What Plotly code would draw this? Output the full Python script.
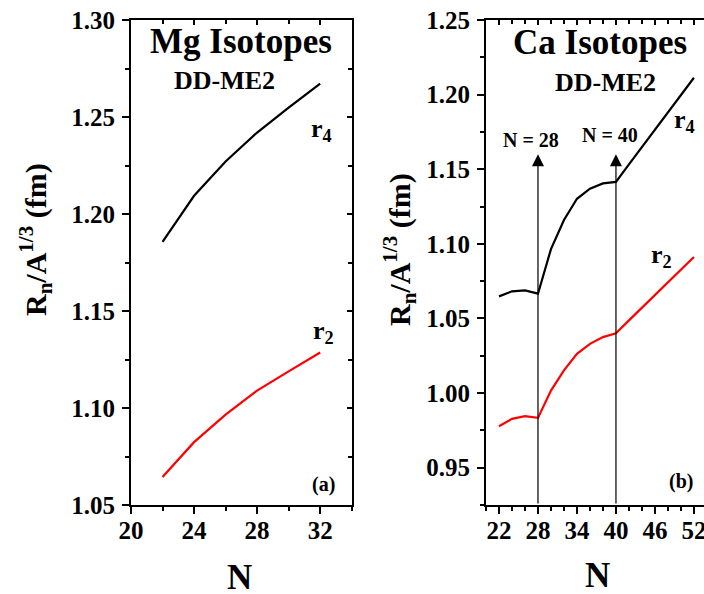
import plotly.graph_objects as go

# ---------------- data ----------------
mg_N = [22, 24, 26, 28, 30, 32]
mg_r4 = [1.1856, 1.2094, 1.2271, 1.2420, 1.2548, 1.2672]
mg_r2 = [1.0644, 1.0824, 1.0966, 1.1090, 1.1189, 1.1286]

ca_N = [22, 24, 26, 28, 30, 32, 34, 36, 38, 40, 42, 44, 46, 48, 50, 52]
ca_r4 = [1.0648, 1.0682, 1.0688, 1.0666, 1.0965, 1.1160, 1.1302, 1.1370, 1.1405, 1.1415,
         1.1533, 1.1648, 1.1764, 1.1880, 1.1997, 1.2113]
ca_r2 = [0.9778, 0.9827, 0.9845, 0.9834, 1.0017, 1.0152, 1.0263, 1.0330, 1.0375, 1.0400,
         1.0487, 1.0572, 1.0657, 1.0742, 1.0827, 1.0912]

magic_N = [28, 40]
arrow_top = 1.16

mg_xticks = [20, 24, 28, 32]
ca_xticks = [22, 28, 34, 40, 46, 52]

FONT = "Liberation Serif"

fig = go.Figure()

fig.add_trace(go.Scatter(x=mg_N, y=mg_r4, mode="lines", line=dict(color="black", width=2.2),
                         xaxis="x", yaxis="y", showlegend=False))
fig.add_trace(go.Scatter(x=mg_N, y=mg_r2, mode="lines", line=dict(color="#ff0000", width=2.2),
                         xaxis="x", yaxis="y", showlegend=False))
fig.add_trace(go.Scatter(x=ca_N, y=ca_r4, mode="lines", line=dict(color="black", width=2.2),
                         xaxis="x2", yaxis="y2", showlegend=False))
fig.add_trace(go.Scatter(x=ca_N, y=ca_r2, mode="lines", line=dict(color="#ff0000", width=2.2),
                         xaxis="x2", yaxis="y2", showlegend=False))

tickfont = dict(family=FONT, size=25, color="black", weight="bold")
common = dict(showline=True, linecolor="black", linewidth=2, ticks="outside",
              tickcolor="black", tickwidth=2, ticklen=7, showgrid=False,
              zeroline=False, tickfont=tickfont, automargin=False,
              ticklabeloverflow="allow")
minor_out = dict(ticks="outside", ticklen=4, tickcolor="black", tickwidth=1.5, showgrid=False)
minor_in = dict(ticks="inside", ticklen=4, tickcolor="black", tickwidth=1.5, showgrid=False)
ov = dict(showline=True, linecolor="black", linewidth=2, ticks="inside", ticklen=5,
          tickwidth=1.5, tickcolor="black", showticklabels=False, showgrid=False,
          zeroline=False, automargin=False)

xd1 = [131 / 704, 351.7 / 704]
xd2 = [486 / 704, 1.0]
yd = [1 - 505 / 594, 1 - 20 / 594]

fig.update_layout(
    width=704, height=594, margin=dict(l=0, r=0, t=0, b=0, pad=0, autoexpand=False),
    paper_bgcolor="white", plot_bgcolor="white",
    xaxis=dict(domain=xd1, range=[20, 34], anchor="y", tickmode="array", tickvals=mg_xticks,
               minor=dict(dtick=2, tick0=20, **minor_out), ticklabelstandoff=-5, **common),
    yaxis=dict(domain=yd, range=[1.05, 1.30], anchor="x", dtick=0.05, tick0=1.05,
               tickformat=".2f", minor=dict(dtick=0.025, tick0=1.05, **minor_out),
               ticklabelstandoff=2, **common),
    xaxis2=dict(domain=xd2, range=[20, 53.55], anchor="y2", tickmode="array", tickvals=ca_xticks,
                minor=dict(dtick=2, tick0=20, **minor_out), ticklabelstandoff=-5, **common),
    yaxis2=dict(domain=yd, range=[0.925, 1.25], anchor="x2", dtick=0.05, tick0=0.95,
                tickformat=".2f", minor=dict(dtick=0.025, tick0=0.925, **minor_out),
                ticklabelstandoff=2, **common),
    # mirror frame with inward ticks
    xaxis3=dict(overlaying="x", side="top", anchor="y", range=[20, 34],
                tickvals=mg_xticks, minor=dict(dtick=2, tick0=20, **minor_in), **ov),
    yaxis3=dict(overlaying="y", side="right", anchor="x", range=[1.05, 1.30],
                dtick=0.05, tick0=1.05, minor=dict(dtick=0.025, tick0=1.05, **minor_in), **ov),
    xaxis4=dict(overlaying="x2", side="top", anchor="y2", range=[20, 53.55],
                tickvals=ca_xticks, minor=dict(dtick=2, tick0=20, **minor_in), **ov),
)

# invisible traces so overlay axes are drawn
fig.add_trace(go.Scatter(x=[20], y=[1.05], mode="markers", marker=dict(opacity=0),
                         xaxis="x3", yaxis="y3", showlegend=False, hoverinfo="skip"))
fig.add_trace(go.Scatter(x=[20], y=[1.0], mode="markers", marker=dict(opacity=0),
                         xaxis="x4", yaxis="y2", showlegend=False, hoverinfo="skip"))

# arrows marking magic numbers
for n in magic_N:
    fig.add_annotation(x=n, y=arrow_top, ax=n, ay=0.925, xref="x2", yref="y2",
                       axref="x2", ayref="y2", text="", showarrow=True,
                       arrowhead=2, arrowsize=2.0, arrowwidth=1.2, arrowcolor="black",
                       standoff=0, startstandoff=0)

def lab(text, x, y, xr, yr, size, weight="bold"):
    fig.add_annotation(x=x, y=y, xref=xr, yref=yr, text=text, showarrow=False,
                       xanchor="center", yanchor="middle",
                       font=dict(family=FONT, size=size, color="black", weight=weight))

# left panel labels
lab("Mg Isotopes", 27.0, 1.2887, "x", "y", 35)
lab("DD-ME2", 25.9, 1.2686, "x", "y", 26)
lab("r<sub>4</sub>", 32.07, 1.2435, "x", "y", 26)
lab("r<sub>2</sub>", 32.2, 1.139, "x", "y", 26)
lab("(a)", 32.2, 1.0606, "x", "y", 20)

# right panel labels
lab("Ca Isotopes", 37.57, 1.2352, "x2", "y2", 35)
lab("DD-ME2", 38.4, 1.2084, "x2", "y2", 26)
lab("N = 28", 27.0, 1.1698, "x2", "y2", 20)
lab("N = 40", 39.1, 1.1728, "x2", "y2", 20)
lab("r<sub>4</sub>", 50.6, 1.182, "x2", "y2", 26)
lab("r<sub>2</sub>", 47.0, 1.0916, "x2", "y2", 26)
lab("(b)", 49.97, 0.9409, "x2", "y2", 20)

# axis titles
ytitle = "R<sub>n</sub>/A<sup>1/3</sup> (fm)"
fig.add_annotation(x=36 / 704, y=1 - 240 / 594, xref="paper", yref="paper", text=ytitle,
                   textangle=-90, showarrow=False, xanchor="center", yanchor="middle",
                   font=dict(family=FONT, size=30, color="black", weight="bold"))
fig.add_annotation(x=400 / 704, y=1 - 250 / 594, xref="paper", yref="paper", text=ytitle,
                   textangle=-90, showarrow=False, xanchor="center", yanchor="middle",
                   font=dict(family=FONT, size=30, color="black", weight="bold"))
fig.add_annotation(x=240 / 704, y=1 - 577 / 594, xref="paper", yref="paper", text="N",
                   showarrow=False, xanchor="center", yanchor="middle",
                   font=dict(family=FONT, size=35, color="black", weight="bold"))
fig.add_annotation(x=597 / 704, y=1 - 575 / 594, xref="paper", yref="paper", text="N",
                   showarrow=False, xanchor="center", yanchor="middle",
                   font=dict(family=FONT, size=35, color="black", weight="bold"))

fig.write_html("out.html")
